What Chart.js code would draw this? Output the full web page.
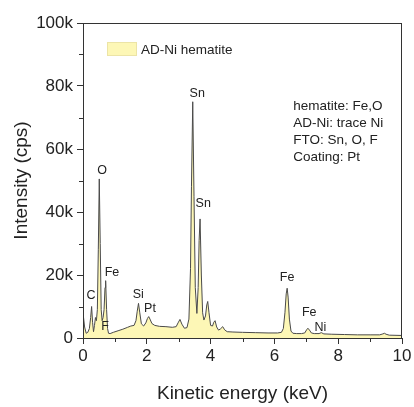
<!DOCTYPE html>
<html>
<head>
<meta charset="utf-8">
<script src="https://cdn.jsdelivr.net/npm/chart.js@4"></script>
<style>
  html, body { margin: 0; padding: 0; background: #fff; }
  #wrap { width: 414px; height: 407px; position: relative; }
</style>
</head>
<body>
<div id="wrap"><canvas id="eds"></canvas></div>
<script>
// EDS spectrum, energy in keV, intensity in kcps
const energy = [0, 0.05, 0.1, 0.15, 0.2, 0.24, 0.27, 0.30, 0.33, 0.36, 0.39, 0.42, 0.45, 0.48, 0.51, 0.54, 0.57, 0.60, 0.63, 0.66, 0.69, 0.71, 0.74, 0.77, 0.80, 0.85, 0.95, 1.1, 1.25, 1.4, 1.5, 1.6, 1.66, 1.70, 1.74, 1.78, 1.83, 1.90, 1.97, 2.02, 2.06, 2.10, 2.16, 2.25, 2.4, 2.6, 2.8, 2.92, 2.98, 3.04, 3.10, 3.18, 3.26, 3.32, 3.37, 3.40, 3.44, 3.48, 3.52, 3.57, 3.61, 3.64, 3.67, 3.71, 3.75, 3.79, 3.84, 3.88, 3.91, 3.95, 4.00, 4.06, 4.10, 4.14, 4.19, 4.25, 4.31, 4.38, 4.44, 4.52, 4.7, 5.0, 5.4, 5.8, 6.1, 6.22, 6.28, 6.33, 6.37, 6.40, 6.43, 6.47, 6.52, 6.58, 6.7, 6.85, 6.95, 7.01, 7.05, 7.10, 7.16, 7.25, 7.4, 7.47, 7.55, 7.8, 8.2, 8.6, 9.0, 9.3, 9.4, 9.45, 9.5, 9.6, 10];
const intensity = [8.0, 3.5, 1.5, 1.8, 3.0, 6.5, 10.0, 5.0, 2.0, 4.0, 6.5, 5.5, 9, 28, 50.5, 30, 9, 5.5, 6.5, 9, 16, 18.2, 9, 3, 1.5, 1.4, 1.8, 2.3, 2.8, 3.4, 3.8, 4.0, 5.5, 8.5, 11, 8, 4.5, 3.8, 4.8, 6.2, 6.8, 6.0, 4.6, 4.0, 3.7, 3.6, 3.4, 3.6, 4.8, 5.9, 4.4, 3.1, 3.3, 6, 22, 48, 75, 45, 16, 7.8, 16, 31, 37.8, 20, 8, 5.7, 7, 10.5, 11.6, 8, 4, 3.8, 5.0, 5.5, 3.5, 2.5, 2.9, 3.6, 2.6, 2.0, 1.9, 1.8, 1.7, 1.6, 1.6, 1.8, 3.0, 8, 14, 15.8, 13, 6, 2.2, 1.5, 1.4, 1.4, 1.6, 2.6, 3.1, 2.5, 1.6, 1.4, 1.4, 1.7, 1.3, 1.2, 1.1, 1.0, 1.0, 1.0, 1.3, 1.5, 1.2, 0.9, 0.8];

// peak labels: element, energy, intensity (label anchor)
const peakNames = ['C', 'O', 'F', 'Fe', 'Si', 'Pt', 'Sn', 'Sn', 'Fe', 'Fe', 'Ni'];
const peakX = [0.25, 0.60, 0.69, 0.91, 1.73, 2.10, 3.58, 3.77, 6.40, 7.09, 7.44];
const peakY = [13.4, 53.2, 3.5, 20.7, 13.7, 9.2, 77.7, 42.7, 19.1, 8.0, 3.2];

const noteLines = ['hematite: Fe,O', 'AD-Ni: trace Ni', 'FTO: Sn, O, F', 'Coating: Pt'];
const seriesName = 'AD-Ni hematite';

const FONT = '"Liberation Sans", Arial, sans-serif';
const fillColor = '#FDF7B6';
const lineColor = '#4a4a4a';
const axisColor = '#333';

const extras = {
    id: 'extras',
    afterDatasetsDraw(c) {
        const { ctx, chartArea: a, scales: { x, y } } = c;
        ctx.save();
        // frame
        ctx.strokeStyle = axisColor;
        ctx.lineWidth = 1;
        ctx.strokeRect(a.left + 0.5, a.top + 0.5, a.right - a.left - 1, a.bottom - a.top);
        // minor ticks halfway between the major ones
        ctx.beginPath();
        x.ticks.slice(1).forEach((t, i) => {
            const px = Math.round((x.getPixelForValue(t.value) + x.getPixelForValue(x.ticks[i].value)) / 2) + 0.5;
            ctx.moveTo(px, a.bottom);
            ctx.lineTo(px, a.bottom + 4);
        });
        y.ticks.slice(1).forEach((t, i) => {
            const py = Math.round((y.getPixelForValue(t.value) + y.getPixelForValue(y.ticks[i].value)) / 2) + 0.5;
            ctx.moveTo(a.left, py);
            ctx.lineTo(a.left - 4, py);
        });
        ctx.stroke();
        // peak labels
        ctx.fillStyle = '#222';
        ctx.font = '12.5px ' + FONT;
        ctx.textAlign = 'center';
        ctx.textBaseline = 'middle';
        peakNames.forEach((n, i) => {
            ctx.fillText(n, x.getPixelForValue(peakX[i]), y.getPixelForValue(peakY[i]));
        });
        // note block
        ctx.font = '13.5px ' + FONT;
        ctx.textAlign = 'left';
        const nx = x.getPixelForValue(6.59);
        const ny = y.getPixelForValue(73.6);
        noteLines.forEach((t, i) => ctx.fillText(t, nx, ny + i * 17));
        // legend
        ctx.fillStyle = fillColor;
        ctx.fillRect(a.left + 24, a.top + 19, 30, 14);
        ctx.strokeStyle = '#ECE4A6';
        ctx.strokeRect(a.left + 24.5, a.top + 19.5, 29, 13);
        ctx.fillStyle = '#222';
        ctx.font = '13.5px ' + FONT;
        ctx.fillText(seriesName, a.left + 58, a.top + 27);
        ctx.restore();
    }
};

new Chart(document.getElementById('eds'), {
    type: 'line',
    data: {
        datasets: [{
            label: seriesName,
            data: energy.map((e, i) => ({ x: e, y: intensity[i] })),
            borderColor: lineColor,
            borderWidth: 1,
            backgroundColor: fillColor,
            fill: 'origin',
            pointRadius: 0,
            tension: 0,
        }]
    },
    options: {
        responsive: true,
        maintainAspectRatio: false,
        animation: false,
        layout: { padding: { top: 23, right: 12, left: 0, bottom: 0 } },
        plugins: {
            legend: { display: false },
            tooltip: { enabled: false },
        },
        scales: {
            x: {
                type: 'linear',
                min: 0,
                max: 10,
                afterFit: (s) => { s.height = 69; },
                border: { display: true, color: axisColor, width: 1 },
                grid: { drawOnChartArea: false, drawTicks: true, tickLength: 6, color: axisColor },
                ticks: {
                    stepSize: 2,
                    autoSkip: false,
                    maxRotation: 0,
                    padding: 2,
                    color: '#222',
                    font: { family: FONT, size: 17 },
                },
                title: {
                    display: true,
                    text: 'Kinetic energy (keV)',
                    color: '#222',
                    font: { family: FONT, size: 19 },
                    padding: { top: 0, bottom: 2 },
                },
            },
            y: {
                min: 0,
                max: 100,
                afterFit: (s) => { s.width = 83; },
                border: { display: true, color: axisColor, width: 1 },
                grid: { drawOnChartArea: false, drawTicks: true, tickLength: 6, color: axisColor },
                ticks: {
                    stepSize: 20,
                    autoSkip: false,
                    padding: 4,
                    color: '#222',
                    font: { family: FONT, size: 17 },
                    callback: (v) => (v === 0 ? '0' : v + 'k'),
                },
                title: {
                    display: true,
                    text: 'Intensity (cps)',
                    color: '#222',
                    font: { family: FONT, size: 19 },
                    padding: { top: 10, bottom: 0 },
                },
            },
        },
    },
    plugins: [extras],
});
</script>
</body>
</html>
